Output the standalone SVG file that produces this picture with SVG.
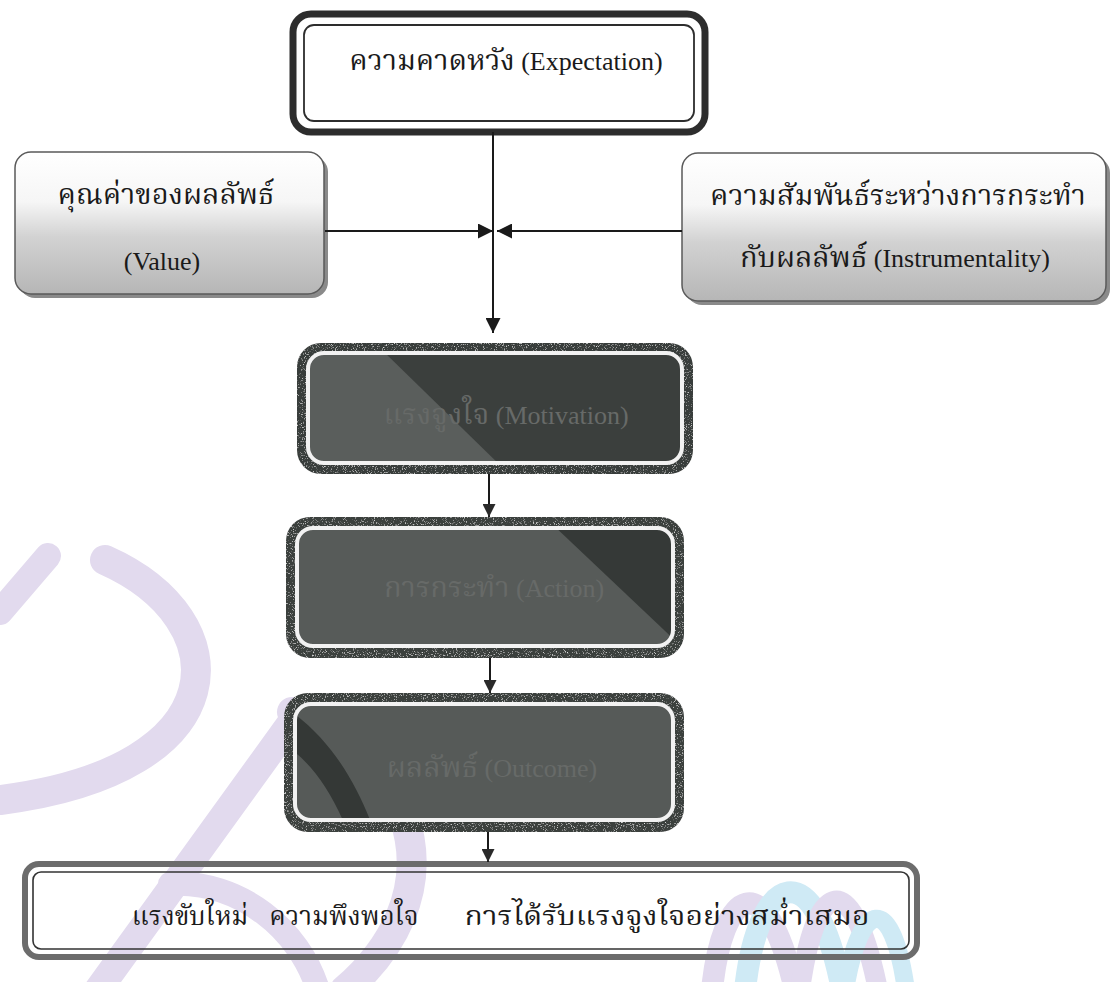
<svg xmlns="http://www.w3.org/2000/svg" width="1111" height="982" viewBox="0 0 1111 982">
<style>
  text { font-family: 'Liberation Serif', 'Noto Serif Thai', 'Noto Sans Thai', 'DejaVu Serif', serif; font-size: 26px; text-anchor: middle; }
  .th { font-size: 29px; }
  .lbl { fill: #1a1a1a; }
  .dk { fill: #676a68; }
  .wm { fill: none; stroke-linecap: round; }
  .conn { stroke: #1a1a1a; stroke-width: 2; fill: none; }
  .ring { fill: none; stroke: #f2f2f2; stroke-width: 4; }
</style>
<defs>
  <marker id="ah" viewBox="0 0 10 10" refX="10" refY="5" markerWidth="15" markerHeight="15" markerUnits="userSpaceOnUse" orient="auto">
    <path d="M0,0 L10,5 L0,10 z" fill="#1a1a1a"/>
  </marker>
  <marker id="ah2" viewBox="0 0 10 10" refX="10" refY="5" markerWidth="14" markerHeight="13" markerUnits="userSpaceOnUse" orient="auto">
    <path d="M0,0 L10,5 L0,10 z" fill="#2a2a2a"/>
  </marker>
  <linearGradient id="grayfill" x1="0" y1="0" x2="0" y2="1">
    <stop offset="0" stop-color="#ffffff"/>
    <stop offset="0.35" stop-color="#f6f6f6"/>
    <stop offset="0.6" stop-color="#d2d2d2"/>
    <stop offset="1" stop-color="#b6b6b6"/>
  </linearGradient>
  <filter id="grain" x="0" y="0" width="100%" height="100%">
    <feTurbulence type="fractalNoise" baseFrequency="0.9" numOctaves="2" seed="3" result="n"/>
    <feColorMatrix in="n" type="matrix" values="0 0 0 0 0.85  0 0 0 0 0.85  0 0 0 0 0.85  0 0 0 3 -1.75" result="w"/>
    <feComposite in="w" in2="SourceGraphic" operator="in" result="ws"/>
    <feMerge><feMergeNode in="SourceGraphic"/><feMergeNode in="ws"/></feMerge>
  </filter>
  <clipPath id="cpMot"><rect x="308" y="353" width="374" height="110" rx="16"/></clipPath>
  <clipPath id="cpAct"><rect x="297" y="528" width="376" height="118" rx="16"/></clipPath>
  <clipPath id="cpOut"><rect x="295" y="704" width="378" height="116" rx="16"/></clipPath>
</defs>

<rect width="1111" height="982" fill="#ffffff"/>

<!-- watermark -->
<g id="watermark">
  <path class="wm" d="M105,560 C240,620 240,770 0,800" stroke="#e2daee" stroke-width="30"/>
  <path class="wm" d="M0,612 L48,556" stroke="#e2daee" stroke-width="26"/>
  <path class="wm" d="M98,990 L296,716" stroke="#e2daee" stroke-width="28"/>
  <path class="wm" d="M292,712 C430,770 450,900 345,990" stroke="#e2daee" stroke-width="30"/>
  <path class="wm" d="M170,884 C240,880 300,930 318,990" stroke="#e2daee" stroke-width="24"/>
  <path class="wm" d="M712,990 C722,890 765,860 795,990" stroke="#e2daee" stroke-width="22"/>
  <path class="wm" d="M745,990 C758,870 815,850 842,990" stroke="#cfeaf5" stroke-width="22"/>
  <path class="wm" d="M800,990 C815,880 852,862 878,990" stroke="#e2daee" stroke-width="20"/>
  <path class="wm" d="M845,990 C860,900 892,890 906,990" stroke="#cfeaf5" stroke-width="18"/>
</g>

<!-- top node -->
<g id="node-expectation">
  <rect x="293" y="14" width="412" height="118" rx="18" fill="#ffffff" stroke="#2d2d2d" stroke-width="7"/>
  <rect x="304" y="25" width="390" height="96" rx="10" fill="none" stroke="#2d2d2d" stroke-width="1.8"/>
  <text class="lbl" x="506" y="70"><tspan class="th">ความคาดหวัง</tspan> (Expectation)</text>
</g>

<!-- left node -->
<g id="node-value">
  <rect x="19" y="156" width="309" height="142" rx="16" fill="#8a8a8a"/>
  <rect x="15" y="152" width="309" height="142" rx="16" fill="url(#grayfill)" stroke="#5a5a5a" stroke-width="1.5"/>
  <text class="lbl th" x="166" y="204">คุณค่าของผลลัพธ์</text>
  <text class="lbl" x="162" y="270">(Value)</text>
</g>

<!-- right node -->
<g id="node-instrumentality">
  <rect x="686" y="157" width="424" height="148" rx="16" fill="#8a8a8a"/>
  <rect x="682" y="153" width="424" height="148" rx="16" fill="url(#grayfill)" stroke="#5a5a5a" stroke-width="1.5"/>
  <text class="lbl th" x="898" y="205">ความสัมพันธ์ระหว่างการกระทำ</text>
  <text class="lbl" x="895" y="267"><tspan class="th">กับผลลัพธ์</tspan> (Instrumentality)</text>
</g>

<!-- motivation -->
<g id="node-motivation">
  <rect x="297" y="343" width="396" height="131" rx="24" fill="#393d3b" filter="url(#grain)"/>
  <g clip-path="url(#cpMot)">
    <rect x="308" y="353" width="374" height="110" fill="#3b3f3d"/>
    <polygon points="300,350 382,350 505,470 300,470" fill="#5a5e5c"/>
  </g>
  <rect class="ring" x="308" y="353" width="374" height="110" rx="16"/>
  <text class="dk" x="506" y="424"><tspan class="th">แรงจูงใจ</tspan> (Motivation)</text>
</g>

<!-- action -->
<g id="node-action">
  <rect x="286" y="517" width="398" height="141" rx="24" fill="#3b3f3d" filter="url(#grain)"/>
  <g clip-path="url(#cpAct)">
    <rect x="297" y="528" width="376" height="118" fill="#575b59"/>
    <polygon points="552,524 680,524 680,645" fill="#353937"/>
  </g>
  <rect class="ring" x="297" y="528" width="376" height="118" rx="16"/>
  <text class="dk" x="494" y="597"><tspan class="th">การกระทำ</tspan> (Action)</text>
</g>

<!-- outcome -->
<g id="node-outcome">
  <rect x="284" y="693" width="400" height="139" rx="24" fill="#3b3f3d" filter="url(#grain)"/>
  <g clip-path="url(#cpOut)">
    <rect x="295" y="704" width="378" height="116" fill="#565a58"/>
    <path d="M292,712 C330,740 355,780 372,825 L345,825 C330,790 312,765 292,750 z" fill="#343836"/>
  </g>
  <rect class="ring" x="295" y="704" width="378" height="116" rx="16"/>
  <text class="dk" x="492" y="777"><tspan class="th">ผลลัพธ์</tspan> (Outcome)</text>
</g>

<!-- bottom -->
<g id="node-results">
  <rect x="25" y="864" width="892" height="93" rx="14" fill="none" stroke="#6c6c6c" stroke-width="6"/>
  <rect x="33" y="872" width="876" height="77" rx="8" fill="none" stroke="#333333" stroke-width="1.6"/>
  <text class="lbl" x="190" y="925" font-size="28">แรงขับใหม่</text>
  <text class="lbl" x="344" y="925" font-size="28">ความพึงพอใจ</text>
  <text class="lbl" x="667" y="925" font-size="29" textLength="405" lengthAdjust="spacingAndGlyphs">การได้รับแรงจูงใจอย่างสม่ำเสมอ</text>
</g>

<!-- connectors -->
<g id="connectors">
  <line class="conn" x1="493" y1="132" x2="493" y2="333" marker-end="url(#ah)"/>
  <line class="conn" x1="325" y1="231" x2="493" y2="231" marker-end="url(#ah)"/>
  <line class="conn" x1="682" y1="231" x2="497" y2="231" marker-end="url(#ah)"/>
  <line class="conn" x1="489" y1="474" x2="489" y2="517" stroke="#2a2a2a" marker-end="url(#ah2)"/>
  <line class="conn" x1="490" y1="658" x2="490" y2="693" stroke="#2a2a2a" marker-end="url(#ah2)"/>
  <line class="conn" x1="488" y1="832" x2="488" y2="862" stroke="#2a2a2a" marker-end="url(#ah2)"/>
</g>
</svg>
